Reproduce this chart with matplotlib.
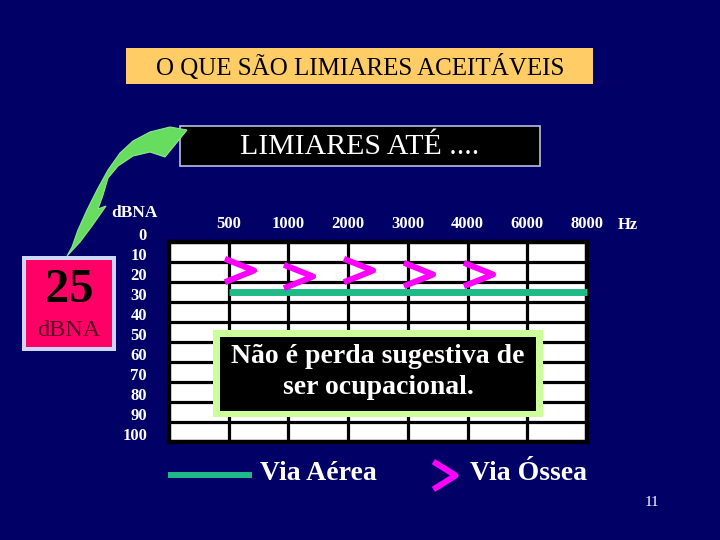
import matplotlib
matplotlib.use('Agg')
import matplotlib.pyplot as plt
from matplotlib.patches import Rectangle, Polygon
from matplotlib.path import Path
from matplotlib.lines import Line2D
import matplotlib.transforms as mtransforms

# ---------------- data ----------------
freq_labels = ['500', '1000', '2000', '3000', '4000', '6000', '8000']
db_levels = [0, 10, 20, 30, 40, 50, 60, 70, 80, 90, 100]
air_freqs = ['500', '1000', '2000', '3000', '4000', '6000', '8000']
air_values = [25, 25, 25, 25, 25, 25, 25]
bone_freqs = ['500', '1000', '2000', '3000', '4000']
bone_values = [14, 17, 14, 16, 16]

title_text = 'O QUE SÃO LIMIARES ACEITÁVEIS'
subtitle_text = 'LIMIARES ATÉ ....'
note_text = 'Não é perda sugestiva de\nser ocupacional.'
legend_air = 'Via Aérea'
legend_bone = 'Via Óssea'

# ---------------- style ----------------
W, H = 720, 540
BG = '#000066'
SERIF = ['Liberation Serif', 'DejaVu Serif']
AIR_COLOR = '#1fba86'
BONE_COLOR = '#ff00ff'

plt.rcParams['font.family'] = SERIF

fig = plt.figure(figsize=(W / 100, H / 100), dpi=100, facecolor=BG)


def fx(x):
    return x / W


def fy(y):
    return 1 - y / H


def rect(x0, y0, x1, y1, **kw):
    r = Rectangle((fx(x0), fy(y1)), (x1 - x0) / W, (y1 - y0) / H,
                  transform=fig.transFigure, **kw)
    fig.add_artist(r)
    return r


# ---------------- audiogram axes ----------------
ax = fig.add_axes([fx(169), fy(442), 418 / W, 200 / H])
ax.set_facecolor('white')
ax.set_xlim(0, len(freq_labels))
ax.set_ylim(100, 0)
pos = {f: i + 1 for i, f in enumerate(freq_labels)}

for i in range(1, len(freq_labels)):
    ax.axvline(i, color='black', lw=2.3, zorder=1)
for v in db_levels[1:-1]:
    ax.axhline(v, color='black', lw=2.3, zorder=1)
for s in ax.spines.values():
    s.set_color('black')
    s.set_linewidth(3.2)

ax.xaxis.tick_top()
ax.set_xticks([pos[f] for f in freq_labels])
ax.set_xticklabels(freq_labels, color='white', fontsize=12, fontweight='bold')
ax.tick_params(axis='x', length=0, pad=7)
ax.set_yticks([])

ylab_tr = ax.get_yaxis_transform() + mtransforms.ScaledTranslation(
    -0.22, 0.06, fig.dpi_scale_trans)
for v in db_levels:
    ax.text(0, v, str(v), transform=ylab_tr, ha='right', va='center',
            color='white', fontsize=12, fontweight='bold', clip_on=False)

fig.text(fx(628), fy(225), 'Hz', color='white', fontsize=12,
         fontweight='bold', ha='center', va='center')
fig.text(fx(134), fy(213), 'dBNA', color='white', fontsize=12.5,
         fontweight='bold', ha='center', va='center')

# air conduction line
ax.plot([pos[f] for f in air_freqs], air_values, color=AIR_COLOR, lw=5,
        solid_capstyle='butt', zorder=3, clip_on=False)

# bone conduction markers '>'
chevron = Path([(-1, 0.8), (1, 0), (-1, -0.8)],
               [Path.MOVETO, Path.LINETO, Path.LINETO])
bone_tr = ax.transData + mtransforms.ScaledTranslation(0.10, 0, fig.dpi_scale_trans)
ax.plot([pos[f] for f in bone_freqs], bone_values, ls='none', marker=chevron,
        ms=21, mfc='none', mec=BONE_COLOR, mew=4.3, transform=bone_tr,
        zorder=4, clip_on=False)

# ---------------- title boxes ----------------
rect(126, 48, 593, 84, facecolor='#ffcc66', edgecolor='none')
fig.text(fx(360), fy(67), title_text, color='black', fontsize=18,
         ha='center', va='center')

rect(180, 126, 540, 166, facecolor='black', edgecolor='#b8c0dc', lw=1.2)
fig.text(fx(360), fy(147), subtitle_text, color='white', fontsize=21.5,
         ha='center', va='center')

# ---------------- curved green arrow ----------------
arrow_px = [(67, 256), (72, 247), (78, 230), (87, 210), (97, 190), (108, 170),
            (120, 153), (133, 141), (150, 132), (170, 127), (187, 130),
            (165, 157), (150, 152), (133, 156), (118, 166), (108, 178),
            (103, 195), (98, 209), (106, 206), (92, 226), (80, 242)]
fig.add_artist(Polygon([(fx(x), fy(y)) for x, y in arrow_px], closed=True,
                       transform=fig.transFigure, facecolor='#66dd5f',
                       edgecolor='#8fe88a', lw=0.8))

# ---------------- 25 dBNA box ----------------
rect(22, 256, 116, 351, facecolor='#ccd8f5', edgecolor='none')
rect(26, 260, 112, 347, facecolor='#ff0066', edgecolor='none')
fig.text(fx(69), fy(290), '25', color='black', fontsize=35,
         fontweight='bold', ha='center', va='center')
fig.text(fx(69), fy(330), 'dBNA', color='#550022', fontsize=17.5,
         ha='center', va='center')

# ---------------- note box ----------------
rect(213, 330, 543, 417, facecolor='#ccff99', edgecolor='none')
rect(220, 337, 536, 411, facecolor='black', edgecolor='none')
fig.text(fx(378), fy(372), note_text, color='white', fontsize=20,
         fontweight='bold', ha='center', va='center', linespacing=1.32)

# ---------------- legend ----------------
fig.add_artist(Line2D([fx(168), fx(252)], [fy(475), fy(475)], color=AIR_COLOR,
                      lw=4.3, solid_capstyle='butt', transform=fig.transFigure))
fig.text(fx(260), fy(473), legend_air, color='white', fontsize=20,
         fontweight='bold', ha='left', va='center')
chevron_big = Path([(-0.8, 1), (0.8, 0), (-0.8, -1)],
                   [Path.MOVETO, Path.LINETO, Path.LINETO])
fig.add_artist(Line2D([fx(444)], [fy(475)], ls='none', marker=chevron_big,
                      ms=20, mfc='none', mec=BONE_COLOR, mew=4.3,
                      transform=fig.transFigure))
fig.text(fx(470), fy(473), legend_bone, color='white', fontsize=20,
         fontweight='bold', ha='left', va='center')

fig.text(fx(652), fy(503), '11', color='white', fontsize=11,
         ha='center', va='center')

fig.savefig('out.png', dpi=100, facecolor=BG)
